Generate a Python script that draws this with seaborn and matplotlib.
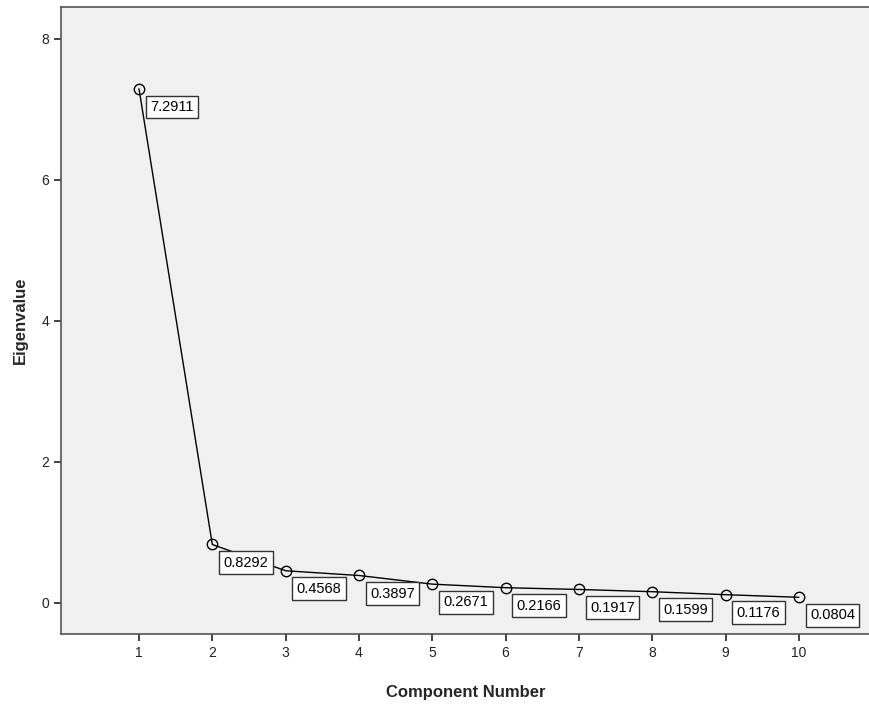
import matplotlib
matplotlib.use("Agg")
import matplotlib.pyplot as plt
import seaborn as sns
import pandas as pd

components = [1, 2, 3, 4, 5, 6, 7, 8, 9, 10]
eigenvalues = [7.2911, 0.8292, 0.4568, 0.3897, 0.2671, 0.2166, 0.1917, 0.1599, 0.1176, 0.0804]

df = pd.DataFrame({"Component Number": components, "Eigenvalue": eigenvalues})

sns.set_theme(style="ticks")
plt.rcParams["font.family"] = ["Liberation Sans", "DejaVu Sans"]

fig = plt.figure(figsize=(8.7, 7.05), dpi=100)
ax = fig.add_axes([0.0701, 0.1007, 0.9299, 0.8893])
ax.set_facecolor("#f0f0f0")

sns.lineplot(data=df, x="Component Number", y="Eigenvalue", ax=ax,
             color="black", linewidth=1.0, marker="o", markersize=7.5,
             markerfacecolor="none", markeredgecolor="black", markeredgewidth=1.0)

# value boxes sit below-right of each point
for x, y in zip(components, eigenvalues):
    ax.annotate(f"{y:.4f}", xy=(x, y), xytext=(8, -8), textcoords="offset points",
                ha="left", va="top", fontsize=10.5, color="black",
                bbox=dict(boxstyle="square,pad=0.3", fc="white", ec="#333333", lw=1.0))

ax.set_xlim(-0.064, 10.97)
ax.set_ylim(-0.44, 8.45)
ax.set_xticks(components)
ax.set_yticks([0, 2, 4, 6, 8])
ax.tick_params(axis="both", direction="out", length=5, width=1.2, labelsize=10, colors="#222222")
for s in ["left", "bottom", "top"]:
    ax.spines[s].set_color("#555555")
    ax.spines[s].set_linewidth(1.2)
ax.spines["right"].set_visible(False)

ax.set_xlabel("Component Number", fontsize=12, fontweight="bold", labelpad=18)
ax.set_ylabel("Eigenvalue", fontsize=12, fontweight="bold", labelpad=10)

fig.savefig("out.png", dpi=100)
